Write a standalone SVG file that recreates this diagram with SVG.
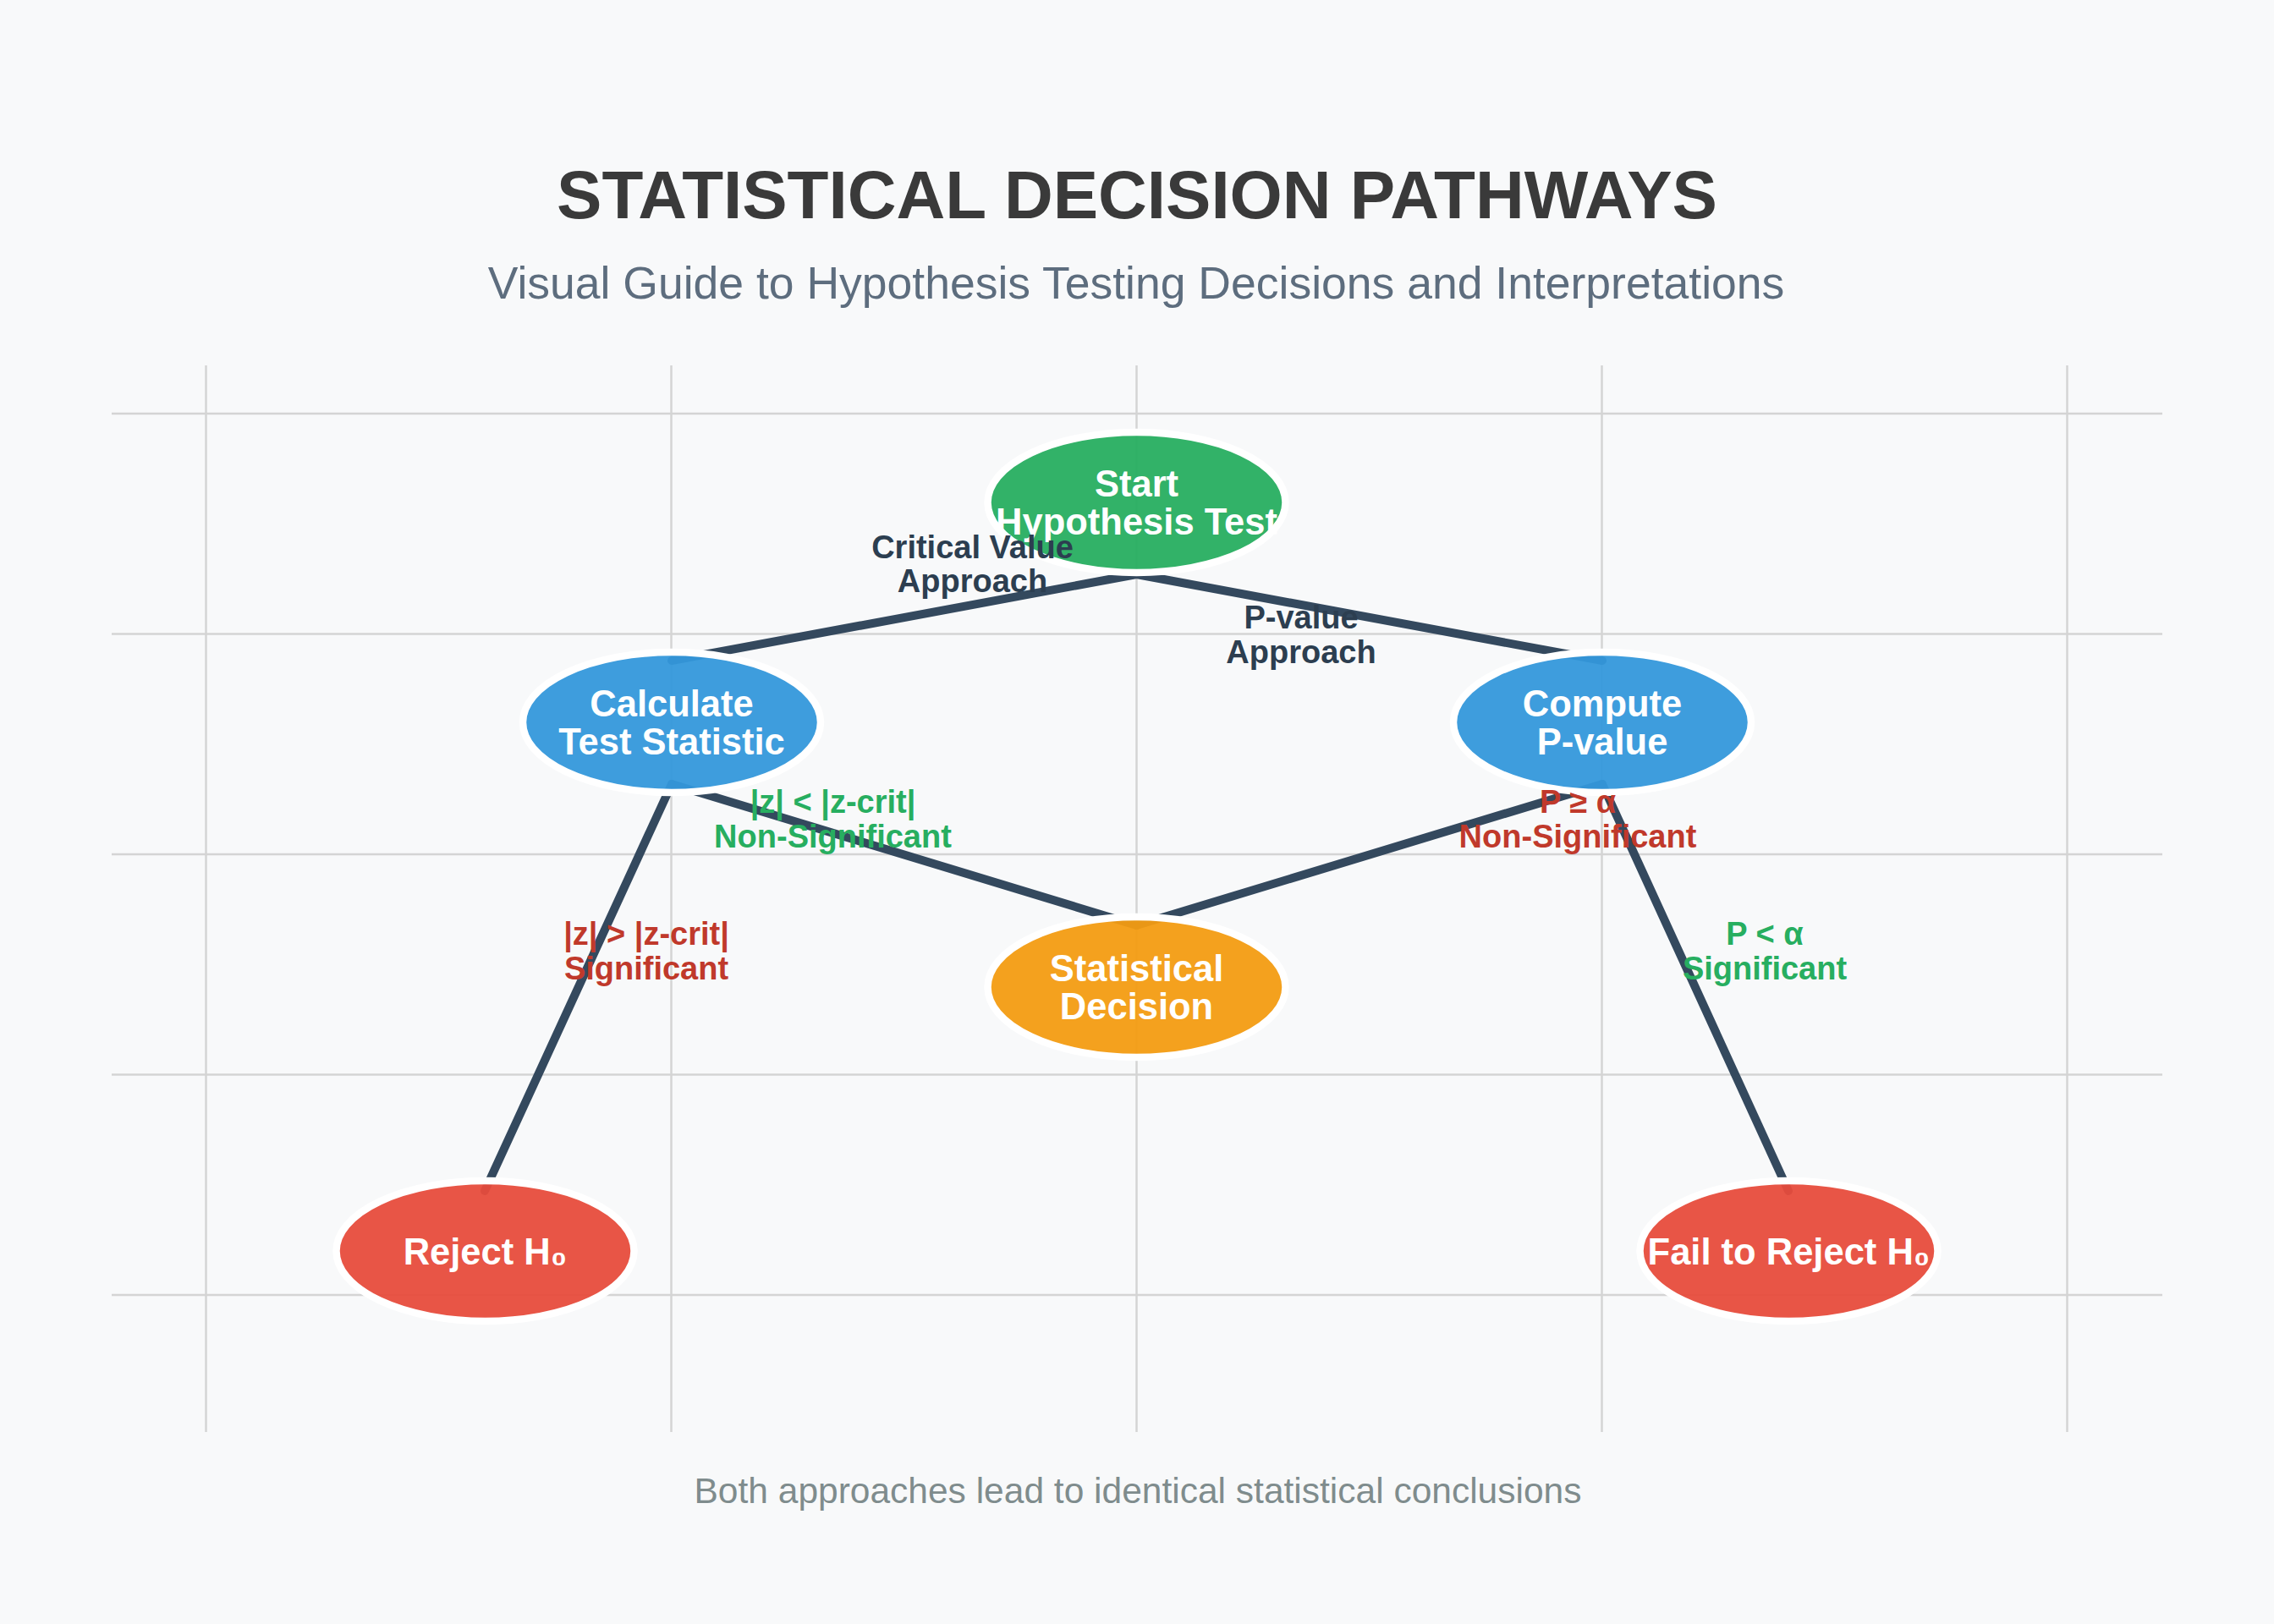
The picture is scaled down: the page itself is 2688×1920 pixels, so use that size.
<svg xmlns="http://www.w3.org/2000/svg" width="2688" height="1920" viewBox="0 0 2688 1920">
  <style>
    .bg { fill: #f8f9fa; }
    .grid line { stroke: #d4d4d4; stroke-width: 2.5; }
    .edge { stroke: #34495e; stroke-width: 10; stroke-linecap: round; fill: none; }
    .node ellipse { stroke: #ffffff; stroke-width: 8.5; fill-opacity: 0.95; }
    .ntext { font-family: "Liberation Sans", Arial, Helvetica, sans-serif; font-weight: bold; font-size: 43.5px; fill: #ffffff; text-anchor: middle; }
    .elabel { font-family: "Liberation Sans", Arial, Helvetica, sans-serif; font-weight: bold; font-size: 38px; text-anchor: middle; }
    .dark { fill: #2c3e50; }
    .green { fill: #27ae60; }
    .red { fill: #c0392b; }
    .title { font-family: "Liberation Sans", Arial, Helvetica, sans-serif; font-weight: bold; font-size: 80px; fill: #3a3a3a; text-anchor: middle; }
    .subtitle { font-family: "Liberation Sans", Arial, Helvetica, sans-serif; font-size: 53.5px; fill: #5d6d7e; text-anchor: middle; }
    .footer { font-family: "Liberation Sans", Arial, Helvetica, sans-serif; font-size: 42.5px; fill: #7f8c8d; text-anchor: middle; }
  </style>
  <rect class="bg" x="0" y="0" width="2688" height="1920"/>

  <g id="grid" class="grid">
    <line x1="243.5" y1="432" x2="243.5" y2="1693"/>
    <line x1="793.5" y1="432" x2="793.5" y2="1693"/>
    <line x1="1343.5" y1="432" x2="1343.5" y2="1693"/>
    <line x1="1893.5" y1="432" x2="1893.5" y2="1693"/>
    <line x1="2443.5" y1="432" x2="2443.5" y2="1693"/>
    <line x1="132" y1="489" x2="2556" y2="489"/>
    <line x1="132" y1="749.5" x2="2556" y2="749.5"/>
    <line x1="132" y1="1010" x2="2556" y2="1010"/>
    <line x1="132" y1="1270.5" x2="2556" y2="1270.5"/>
    <line x1="132" y1="1531" x2="2556" y2="1531"/>
  </g>

  <text class="title" x="1344" y="258">STATISTICAL DECISION PATHWAYS</text>
  <text class="subtitle" x="1343" y="353">Visual Guide to Hypothesis Testing Decisions and Interpretations</text>

  <g id="connectors">
    <line class="edge" x1="1343.5" y1="679" x2="794" y2="781"/>
    <line class="edge" x1="1343.5" y1="679" x2="1894" y2="781"/>
    <line class="edge" x1="794" y1="927" x2="573" y2="1408"/>
    <line class="edge" x1="794" y1="927" x2="1343.5" y2="1094"/>
    <line class="edge" x1="1894" y1="927" x2="1343.5" y2="1094"/>
    <line class="edge" x1="1894" y1="927" x2="2114" y2="1408"/>
  </g>

  <g id="node-start" class="node">
    <ellipse cx="1343.5" cy="594" rx="176" ry="83" fill="#27ae60"/>
    <text class="ntext"><tspan x="1343.5" y="587">Start</tspan><tspan x="1343.5" y="632">Hypothesis Test</tspan></text>
  </g>
  <g id="node-calculate" class="node">
    <ellipse cx="794" cy="854" rx="176" ry="83" fill="#3498db"/>
    <text class="ntext"><tspan x="794" y="847">Calculate</tspan><tspan x="794" y="892">Test Statistic</tspan></text>
  </g>
  <g id="node-compute" class="node">
    <ellipse cx="1894" cy="854" rx="176" ry="83" fill="#3498db"/>
    <text class="ntext"><tspan x="1894" y="847">Compute</tspan><tspan x="1894" y="892">P-value</tspan></text>
  </g>
  <g id="node-decision" class="node">
    <ellipse cx="1343.5" cy="1167" rx="176" ry="83" fill="#f39c12"/>
    <text class="ntext"><tspan x="1343.5" y="1160">Statistical</tspan><tspan x="1343.5" y="1205">Decision</tspan></text>
  </g>
  <g id="node-reject" class="node">
    <ellipse cx="573.5" cy="1479" rx="176" ry="83" fill="#e74c3c"/>
    <text class="ntext" x="573.5" y="1495">Reject H₀</text>
  </g>
  <g id="node-fail" class="node">
    <ellipse cx="2114.5" cy="1479" rx="176" ry="83" fill="#e74c3c"/>
    <text class="ntext" x="2114.5" y="1495">Fail to Reject H₀</text>
  </g>

  <g id="edge-labels">
    <text class="elabel dark"><tspan x="1149.5" y="660">Critical Value</tspan><tspan x="1149.5" y="700">Approach</tspan></text>
    <text class="elabel dark"><tspan x="1538" y="743">P-value</tspan><tspan x="1538" y="784">Approach</tspan></text>
    <text class="elabel green"><tspan x="984.5" y="961">|z| &lt; |z-crit|</tspan><tspan x="984.5" y="1002">Non-Significant</tspan></text>
    <text class="elabel red"><tspan x="764" y="1117">|z| &gt; |z-crit|</tspan><tspan x="764" y="1158">Significant</tspan></text>
    <text class="elabel red"><tspan x="1865" y="961">P ≥ α</tspan><tspan x="1865" y="1002">Non-Significant</tspan></text>
    <text class="elabel green"><tspan x="2086" y="1117">P &lt; α</tspan><tspan x="2086" y="1158">Significant</tspan></text>
  </g>

  <text class="footer" x="1345" y="1777">Both approaches lead to identical statistical conclusions</text>
</svg>
